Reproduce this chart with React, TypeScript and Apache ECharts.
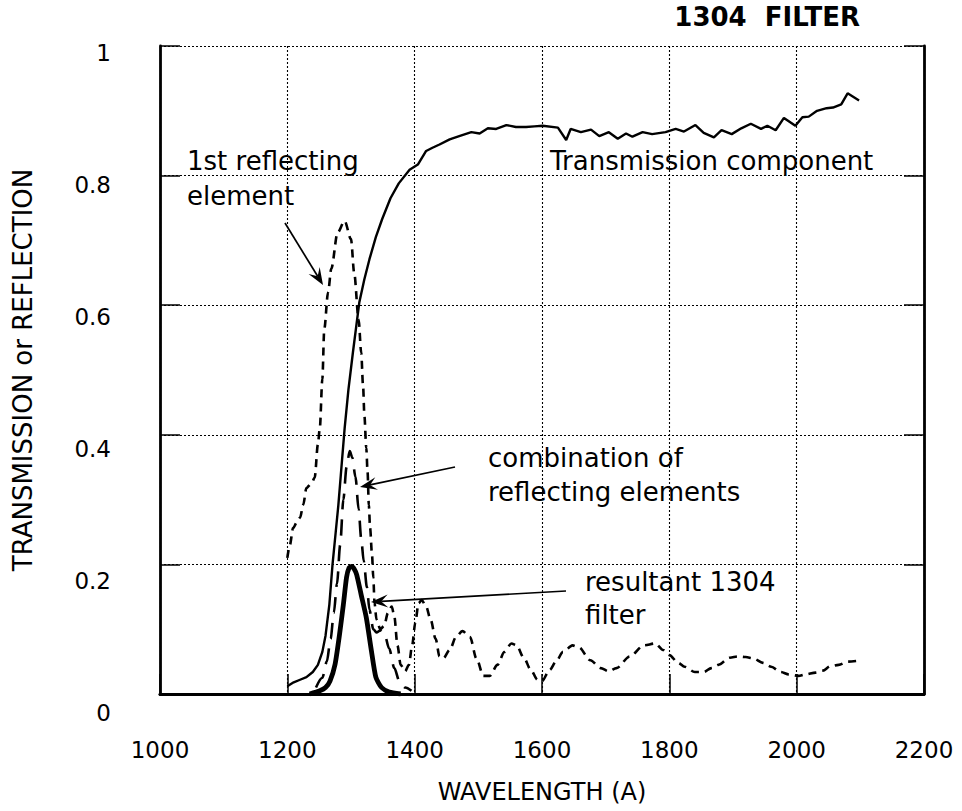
import React, { useEffect, useRef } from "react";
import * as echarts from "echarts";

// Wavelength scale (Angstrom) tick labels run 1000..2200 step 200
const xTicks = [1000, 1200, 1400, 1600, 1800, 2000, 2200];

// Transmission component (thin solid)
const transWl = [
  1200, 1210, 1220, 1230, 1240, 1248, 1255, 1260, 1266, 1271,
  1276, 1280, 1284, 1290, 1296, 1303, 1313, 1321, 1329, 1339,
  1349, 1362, 1375, 1392, 1405, 1418, 1428, 1439, 1455, 1470,
  1489, 1502, 1515, 1528, 1544, 1559, 1575, 1588, 1601, 1625,
  1638, 1645, 1661, 1677, 1690, 1705, 1719, 1732, 1742, 1758,
  1773, 1794, 1810, 1823, 1841, 1854, 1870, 1882, 1898, 1913,
  1928, 1944, 1954, 1967, 1980, 1998, 2009, 2019, 2032, 2047,
  2057, 2070, 2080, 2098,
];
const transVal = [
  0.012, 0.018, 0.022, 0.026, 0.034, 0.045, 0.065, 0.09, 0.138, 0.2,
  0.25, 0.29, 0.338, 0.41, 0.47, 0.527, 0.604, 0.64, 0.671, 0.705,
  0.733, 0.765, 0.788, 0.809, 0.817, 0.838, 0.843, 0.848, 0.856, 0.861,
  0.867, 0.865, 0.873, 0.872, 0.878, 0.875, 0.875, 0.876, 0.877, 0.874,
  0.855, 0.872, 0.867, 0.871, 0.861, 0.867, 0.857, 0.865, 0.86, 0.867,
  0.864, 0.867, 0.872, 0.868, 0.878, 0.866, 0.859, 0.87, 0.864, 0.873,
  0.88, 0.872, 0.877, 0.87, 0.889, 0.877, 0.89, 0.891, 0.9, 0.904,
  0.905, 0.91, 0.927, 0.916,
];

// 1st reflecting element (short dashes)
const reflWl = [
  1200, 1204, 1209, 1215, 1220, 1225, 1230, 1238, 1243, 1248,
  1251, 1255, 1258, 1264, 1269, 1279, 1290, 1300, 1305, 1312,
  1316, 1319, 1321, 1324, 1326, 1328, 1330, 1333, 1335, 1337,
  1340, 1346, 1352, 1358, 1364, 1368, 1373, 1378, 1385, 1391,
  1396, 1401, 1406, 1411, 1418, 1425, 1433, 1439, 1445, 1455,
  1465, 1475, 1487, 1497, 1508, 1518, 1530, 1541, 1552, 1560,
  1572, 1582, 1593, 1600, 1612, 1622, 1633, 1648, 1658, 1676,
  1692, 1705, 1717, 1738, 1760, 1778, 1790, 1800, 1814, 1824,
  1840, 1854, 1866, 1877, 1895, 1908, 1920, 1932, 1947, 1960,
  1975, 1988, 2003, 2013, 2030, 2041, 2053, 2066, 2081, 2095,
];
const reflVal = [
  0.21, 0.23, 0.256, 0.265, 0.272, 0.292, 0.318, 0.325, 0.334, 0.385,
  0.41, 0.486, 0.563, 0.62, 0.656, 0.712, 0.73, 0.702, 0.65, 0.578,
  0.527, 0.475, 0.43, 0.38, 0.343, 0.292, 0.256, 0.215, 0.18, 0.14,
  0.115, 0.1, 0.105, 0.125, 0.135, 0.12, 0.075, 0.045, 0.035, 0.045,
  0.075, 0.11, 0.14, 0.145, 0.135, 0.115, 0.085, 0.058, 0.055, 0.068,
  0.088, 0.097, 0.088, 0.055, 0.028, 0.028, 0.045, 0.065, 0.078, 0.075,
  0.055, 0.038, 0.022, 0.02, 0.037, 0.05, 0.065, 0.075, 0.072, 0.052,
  0.04, 0.035, 0.04, 0.058, 0.075, 0.078, 0.068, 0.06, 0.048, 0.042,
  0.034, 0.034, 0.04, 0.045, 0.056, 0.058, 0.057, 0.055, 0.048, 0.042,
  0.034, 0.03, 0.028, 0.03, 0.033, 0.036, 0.043, 0.045, 0.05, 0.051,
];

// Combination of reflecting elements (long dashes)
const combWl = [
  1245, 1255, 1262, 1268, 1273, 1278, 1283, 1288, 1293, 1298,
  1302, 1307, 1312, 1316, 1320, 1325, 1329, 1335, 1340, 1346,
  1352, 1360, 1368, 1376, 1385, 1395,
];
const combVal = [
  0.01, 0.025, 0.05, 0.085, 0.125, 0.17, 0.23, 0.3, 0.35, 0.375,
  0.365, 0.335, 0.285, 0.24, 0.205, 0.165, 0.13, 0.1, 0.095, 0.098,
  0.095, 0.07, 0.04, 0.02, 0.01, 0.005,
];

// Resultant 1304 filter (heavy solid)
const resWl = [
  1235, 1251, 1260, 1267, 1275, 1282, 1288, 1293, 1297, 1301,
  1305, 1309, 1316, 1324, 1332, 1339, 1348, 1360, 1378,
];
const resVal = [
  0, 0.005, 0.01, 0.02, 0.046, 0.092, 0.138, 0.18, 0.195, 0.197,
  0.193, 0.184, 0.153, 0.118, 0.067, 0.026, 0.01, 0.003, 0,
];

const zip = (xs: number[], ys: number[]) => xs.map((x, i) => [x, ys[i]]);

const FONT = "'DejaVu Sans', Verdana, sans-serif";

// Arrow from tail to tip: a shaft plus a filled head
function arrow(tail: number[], tip: number[], headLen = 17, headHalf = 6.5) {
  const dx = tip[0] - tail[0];
  const dy = tip[1] - tail[1];
  const len = Math.hypot(dx, dy);
  const ux = dx / len;
  const uy = dy / len;
  const bx = tip[0] - ux * headLen;
  const by = tip[1] - uy * headLen;
  const nx = -uy;
  const ny = ux;
  const notchX = tip[0] - ux * headLen * 0.6;
  const notchY = tip[1] - uy * headLen * 0.6;
  return [
    {
      type: "line",
      shape: { x1: tail[0], y1: tail[1], x2: notchX, y2: notchY },
      style: { stroke: "#000", lineWidth: 1.7 },
      z: 10,
    },
    {
      type: "polygon",
      shape: {
        points: [
          [tip[0], tip[1]],
          [bx + nx * headHalf, by + ny * headHalf],
          [notchX, notchY],
          [bx - nx * headHalf, by - ny * headHalf],
        ],
      },
      style: { fill: "#000" },
      z: 10,
    },
  ];
}

function label(text: string, x: number, y: number, size = 26, weight = "normal") {
  return {
    type: "text",
    x,
    y,
    z: 10,
    style: {
      text,
      fill: "#000",
      fontFamily: FONT,
      fontSize: size,
      fontWeight: weight,
      align: "left",
      verticalAlign: "middle",
    },
  };
}

export default function App() {
  const ref = useRef<HTMLDivElement>(null);

  useEffect(() => {
    if (!ref.current) return;
    const chart = echarts.init(ref.current, undefined, { renderer: "svg" });

    const gridLine = { show: true, lineStyle: { color: "#000", width: 1.1, type: [2, 2] } };
    const frame = { show: true, lineStyle: { color: "#000", width: 2.8 } };
    const innerTick = { show: true, inside: true, length: 20, lineStyle: { color: "#000", width: 1.5 } };

    chart.setOption({
      animation: false,
      backgroundColor: "#fff",
      grid: [
        { left: 160, right: 38, top: 46, bottom: 117 },
        // carries the value labels of the vertical scale
        { left: 160, right: 38, top: 53, bottom: 98 },
      ],
      xAxis: [
        {
          type: "value",
          gridIndex: 0,
          min: xTicks[0],
          max: xTicks[xTicks.length - 1],
          interval: 200,
          axisLine: frame,
          axisTick: innerTick,
          splitLine: gridLine,
          axisLabel: {
            color: "#000",
            fontFamily: FONT,
            fontSize: 23,
            margin: 44,
            formatter: (v: number) => String(v),
          },
          name: "WAVELENGTH (A)",
          nameLocation: "middle",
          nameGap: 86,
          nameTextStyle: { color: "#000", fontFamily: FONT, fontSize: 24 },
        },
        {
          type: "value",
          gridIndex: 0,
          position: "top",
          min: xTicks[0],
          max: xTicks[xTicks.length - 1],
          interval: 200,
          axisLine: frame,
          axisTick: { show: false },
          axisLabel: { show: false },
          splitLine: { show: false },
        },
        { type: "value", gridIndex: 1, min: 0, max: 1, show: false },
      ],
      yAxis: [
        {
          type: "value",
          gridIndex: 0,
          min: 0,
          max: 1,
          interval: 0.2,
          axisLine: frame,
          axisTick: innerTick,
          splitLine: gridLine,
          axisLabel: { show: false },
          name: "TRANSMISSION or REFLECTION",
          nameLocation: "middle",
          nameGap: 124,
          nameRotate: 90,
          nameTextStyle: { color: "#000", fontFamily: FONT, fontSize: 26 },
        },
        {
          type: "value",
          gridIndex: 0,
          position: "right",
          min: 0,
          max: 1,
          interval: 0.2,
          axisLine: frame,
          axisTick: innerTick,
          axisLabel: { show: false },
          splitLine: { show: false },
        },
        {
          type: "value",
          gridIndex: 1,
          min: 0,
          max: 1,
          interval: 0.2,
          axisLine: { show: false },
          axisTick: { show: false },
          splitLine: { show: false },
          axisLabel: { color: "#000", fontFamily: FONT, fontSize: 23, margin: 49 },
        },
      ],
      series: [
        {
          name: "Transmission component",
          type: "line",
          xAxisIndex: 0,
          yAxisIndex: 0,
          data: zip(transWl, transVal),
          showSymbol: false,
          lineStyle: { color: "#000", width: 2.4 },
          z: 3,
        },
        {
          name: "1st reflecting element",
          type: "line",
          xAxisIndex: 0,
          yAxisIndex: 0,
          data: zip(reflWl, reflVal),
          showSymbol: false,
          smooth: 0.3,
          smoothMonotone: "x",
          lineStyle: { color: "#000", width: 2.6, type: [8, 6] },
          z: 3,
        },
        {
          name: "combination of reflecting elements",
          type: "line",
          xAxisIndex: 0,
          yAxisIndex: 0,
          data: zip(combWl, combVal),
          showSymbol: false,
          smooth: 0.3,
          smoothMonotone: "x",
          lineStyle: { color: "#000", width: 2.6, type: [16, 10] },
          z: 3,
        },
        {
          name: "resultant 1304 filter",
          type: "line",
          xAxisIndex: 0,
          yAxisIndex: 0,
          data: zip(resWl, resVal),
          showSymbol: false,
          smooth: 0.2,
          lineStyle: { color: "#000", width: 4.8 },
          z: 4,
        },
      ],
      graphic: [
        {
          type: "text",
          x: 860,
          y: 17,
          style: {
            text: "1304  FILTER",
            fill: "#000",
            fontFamily: FONT,
            fontSize: 26,
            fontWeight: "bold",
            align: "right",
            verticalAlign: "middle",
          },
        },
        label("1st reflecting", 187, 161),
        label("element", 187, 196),
        label("Transmission component", 550, 161),
        label("combination of", 488, 458),
        label("reflecting elements", 488, 492),
        label("resultant 1304", 585, 582),
        label("filter", 585, 615),
        ...arrow([285, 223], [323, 285]),
        ...arrow([455, 467], [360, 487]),
        ...arrow([566, 591], [371, 602]),
      ],
    });

    return () => chart.dispose();
  }, []);

  return (
    <div
      ref={ref}
      style={{ position: "fixed", left: 0, top: 0, width: 962, height: 811, background: "#fff" }}
    />
  );
}
